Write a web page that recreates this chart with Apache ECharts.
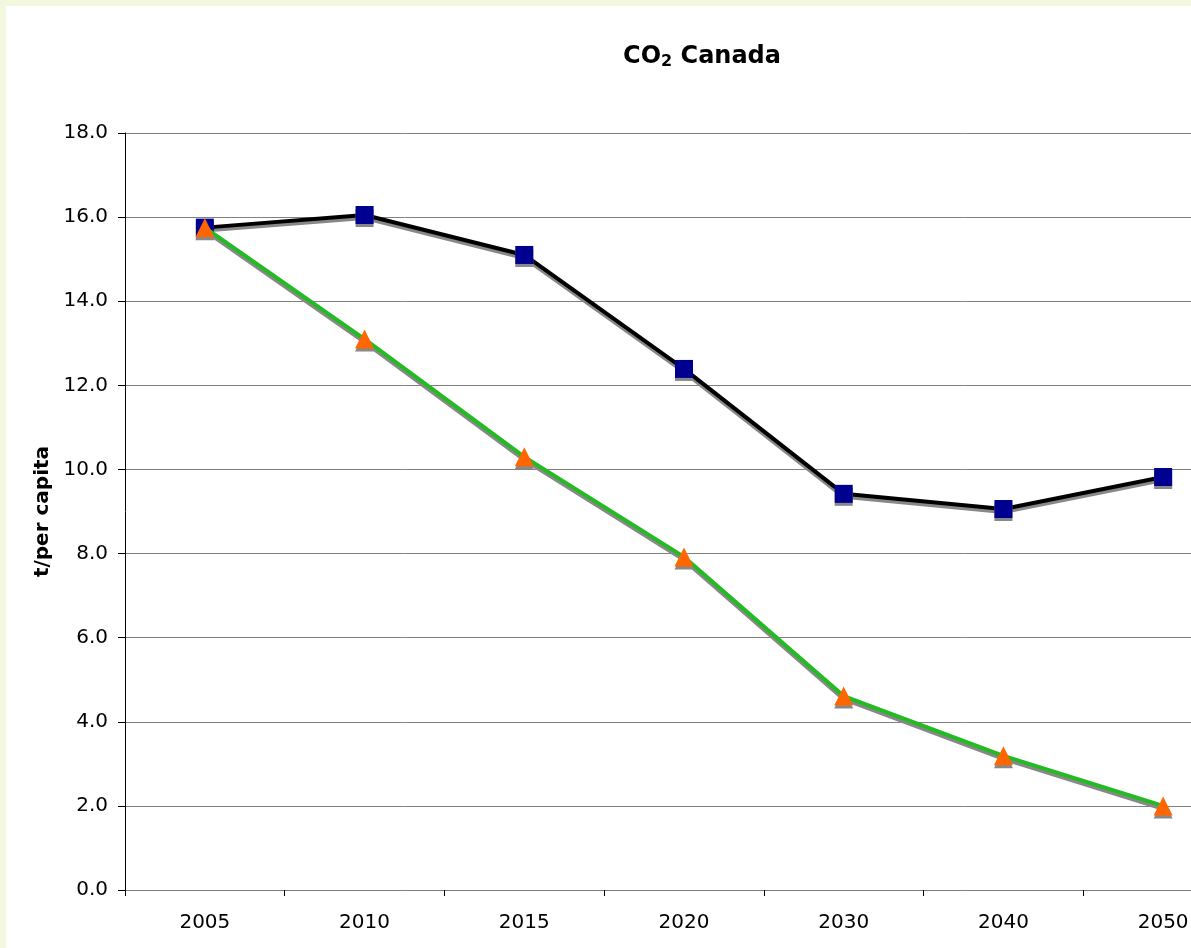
<!DOCTYPE html>
<html>
<head>
<meta charset="utf-8">
<script src="https://cdn.jsdelivr.net/npm/echarts@6/dist/echarts.min.js"></script>
<style>
html,body{margin:0;padding:0;background:#F2F7DF;overflow:hidden;width:1191px;height:948px;}
#wrap{position:absolute;left:6px;top:6px;width:1185px;height:942px;background:#fff;overflow:hidden;}
#c{width:1245px;height:942px;}
</style>
</head>
<body>
<div id="wrap"><div id="c"></div></div>
<script>
const categories = ['2005','2010','2015','2020','2030','2040','2050'];
const seriesA = [15.75, 16.05, 15.1, 12.39, 9.42, 9.06, 9.82];
const seriesB = [15.75, 13.1, 10.3, 7.92, 4.61, 3.19, 2.0];
const yTicks = {min: 0, max: 18, interval: 2};

const chart = echarts.init(document.getElementById('c'), null, {renderer: 'canvas'});
const font = 'DejaVu Sans, Verdana, sans-serif';
chart.setOption({
  animation: false,
  backgroundColor: '#fff',
  title: {
    text: '{a|CO}{s|2}{a| Canada}',
    left: 691, top: 33, textAlign: 'center',
    textStyle: {
      rich: {
        a: {fontFamily: font, fontWeight: 'bold', fontSize: 24, color: '#000'},
        s: {fontFamily: font, fontWeight: 'bold', fontSize: 16, color: '#000', verticalAlign: 'bottom', padding: [10,0,0,0]}
      }
    }
  },
  grid: {left: 119, right: 8, top: 127, bottom: 58, containLabel: false},
  xAxis: {
    type: 'category', data: categories, boundaryGap: true,
    axisLine: {lineStyle: {color: '#808080', width: 1}},
    axisTick: {show: true, length: 6, lineStyle: {color: '#000'}, alignWithLabel: false},
    axisLabel: {fontFamily: font, fontSize: 20, color: '#000', margin: 23},
    splitLine: {show: false}
  },
  yAxis: {
    type: 'value', min: yTicks.min, max: yTicks.max, interval: yTicks.interval,
    name: 't/per capita', nameLocation: 'middle', nameGap: 71, nameRotate: 90,
    nameTextStyle: {fontFamily: font, fontWeight: 'bold', fontSize: 20, color: '#000'},
    axisLine: {show: true, lineStyle: {color: '#000', width: 1}},
    axisTick: {show: true, length: 7, lineStyle: {color: '#000'}},
    axisLabel: {fontFamily: font, fontSize: 20, color: '#000', margin: 17, formatter: v => v.toFixed(1)},
    splitLine: {show: true, lineStyle: {color: '#808080', width: 1}}
  },
  series: [
    {
      type: 'line', data: seriesB, symbol: 'triangle', symbolSize: 19, z: 3,
      lineStyle: {color: '#22BB22', width: 4, shadowColor: '#888', shadowOffsetY: 3, shadowOffsetX: 0, shadowBlur: 0},
      itemStyle: {color: '#FF6600', shadowColor: '#888', shadowOffsetY: 3, shadowBlur: 0}
    },
    {
      type: 'line', data: seriesA, symbol: 'rect', symbolSize: 18, z: 2,
      lineStyle: {color: '#000', width: 4, shadowColor: '#888', shadowOffsetY: 3, shadowOffsetX: 0, shadowBlur: 0},
      itemStyle: {color: '#000090', shadowColor: '#888', shadowOffsetY: 3, shadowBlur: 0}
    }
  ]
});
</script>
</body>
</html>
